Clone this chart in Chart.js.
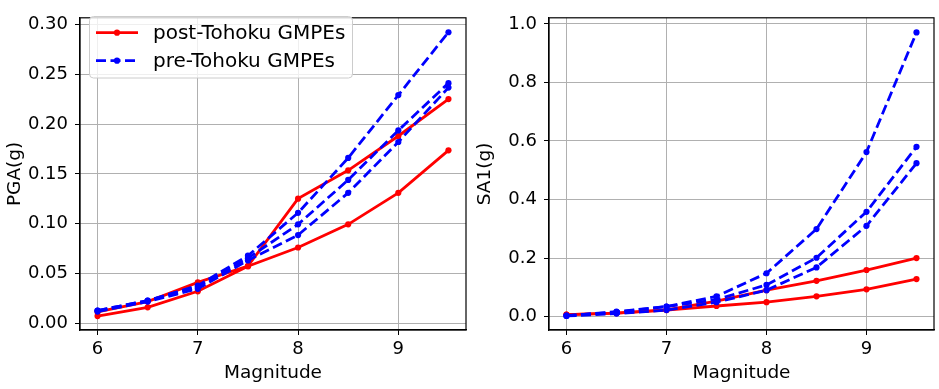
<!DOCTYPE html>
<html>
<head>
<meta charset="utf-8">
<script src="https://cdn.jsdelivr.net/npm/chart.js@4.4.0/dist/chart.umd.min.js"></script>
<style>
    html, body { margin: 0; padding: 0; background: #fff; }
    #wrap { position: relative; width: 939px; height: 389px; }
    .box { position: absolute; top: 0; height: 389px; }
</style>
</head>
<body>
<div id="wrap">
    <div class="box" style="left:0; width:470px;"><canvas id="chartPGA"></canvas></div>
    <div class="box" style="left:470px; width:469px;"><canvas id="chartSA1"></canvas></div>
</div>
<script>
// magnitudes on the x axis
const MAGNITUDES = [6, 6.5, 7, 7.5, 8, 8.5, 9, 9.5];
const X_TICKS = [6, 7, 8, 9];

// PGA (g) - left panel
const PGA_POST_1 = [0.0116, 0.022, 0.0413, 0.0575, 0.1252, 0.1536, 0.188, 0.225];
const PGA_POST_2 = [0.0075, 0.0162, 0.0323, 0.0575, 0.0762, 0.0994, 0.131, 0.1736];
const PGA_PRE_1 = [0.013, 0.023, 0.038, 0.068, 0.111, 0.166, 0.229, 0.292];
const PGA_PRE_2 = [0.013, 0.023, 0.0365, 0.0655, 0.0994, 0.144, 0.1936, 0.241];
const PGA_PRE_3 = [0.012, 0.022, 0.0348, 0.0633, 0.0887, 0.131, 0.182, 0.2365];
const PGA_TICKS = [0, 0.05, 0.10, 0.15, 0.20, 0.25, 0.30];

// SA1 (g) - right panel
const SA1_POST_1 = [0.0066, 0.012, 0.023, 0.053, 0.090, 0.122, 0.159, 0.1998];
const SA1_POST_2 = [0.0066, 0.012, 0.022, 0.036, 0.049, 0.069, 0.093, 0.128];
const SA1_PRE_1 = [0.003, 0.0165, 0.034, 0.069, 0.148, 0.299, 0.562, 0.971];
const SA1_PRE_2 = [0.003, 0.015, 0.034, 0.058, 0.108, 0.201, 0.358, 0.58];
const SA1_PRE_3 = [0.002, 0.01, 0.022, 0.049, 0.09, 0.168, 0.31, 0.524];
const SA1_TICKS = [0, 0.2, 0.4, 0.6, 0.8, 1.0];

const LEGEND_LABELS = ['post-Tohoku GMPEs', 'pre-Tohoku GMPEs'];

const RED = '#ff0000';
const BLUE = '#0000ff';
const DASH = [10, 4.5];
const FONT = { family: "'DejaVu Sans', sans-serif", size: 18.5 };
const TICK_FONT = { family: "'DejaVu Sans', sans-serif", size: 18 };
const LEGEND_FONT_SIZE = 20;

function toPoints(values) {
    return values.map((v, i) => ({ x: MAGNITUDES[i], y: v }));
}

function series(values, color, dashed) {
    return {
        data: toPoints(values),
        borderColor: color,
        backgroundColor: color,
        borderWidth: 2.8,
        borderDash: dashed ? DASH : [],
        pointRadius: 3.1,
        pointBorderWidth: 0,
        pointBackgroundColor: color,
        tension: 0,
        fill: false,
        order: dashed ? 0 : 1,
    };
}

// black frame on all four sides like matplotlib spines
const framePlugin = {
    id: 'frame',
    afterDraw(chart) {
        const { ctx, chartArea: a } = chart;
        ctx.save();
        ctx.strokeStyle = '#000';
        ctx.lineWidth = 1.2;
        ctx.strokeRect(a.left, a.top, a.right - a.left, a.bottom - a.top);
        ctx.restore();
    },
};

// legend box in the upper-left corner of the PGA panel
const legendPlugin = {
    id: 'boxLegend',
    afterDraw(chart, args, opts) {
        if (!opts.show) return;
        const { ctx } = chart;
        const x = 89.5, y = 16.5, w = 263, h = 61.5, r = 4;
        ctx.save();
        ctx.beginPath();
        ctx.roundRect(x, y, w, h, r);
        ctx.fillStyle = 'rgba(255,255,255,0.8)';
        ctx.fill();
        ctx.strokeStyle = '#cccccc';
        ctx.lineWidth = 1;
        ctx.stroke();

        const rows = [
            { label: LEGEND_LABELS[0], color: RED, dash: [], y: 32.7 },
            { label: LEGEND_LABELS[1], color: BLUE, dash: DASH, y: 60.7 },
        ];
        rows.forEach(row => {
            ctx.beginPath();
            ctx.setLineDash(row.dash);
            ctx.strokeStyle = row.color;
            ctx.lineWidth = 2.8;
            ctx.moveTo(96, row.y);
            ctx.lineTo(138, row.y);
            ctx.stroke();
            ctx.setLineDash([]);
            ctx.beginPath();
            ctx.arc(117, row.y, 3.1, 0, Math.PI * 2);
            ctx.fillStyle = row.color;
            ctx.fill();
            ctx.fillStyle = '#000';
            ctx.font = `${LEGEND_FONT_SIZE}px ${FONT.family}`;
            ctx.textBaseline = 'middle';
            ctx.textAlign = 'left';
            ctx.fillText(row.label, 153, row.y + 1);
        });
        ctx.restore();
    },
};

function makeChart(id, datasets, cfg) {
    const ctx = document.getElementById(id).getContext('2d');
    return new Chart(ctx, {
        type: 'line',
        data: { datasets },
        plugins: [framePlugin, legendPlugin],
        options: {
            responsive: true,
            maintainAspectRatio: false,
            animation: false,
            layout: { padding: { top: 6, right: cfg.padRight, left: 0, bottom: 0 } },
            plugins: {
                legend: { display: false },
                tooltip: { enabled: false },
                boxLegend: { show: cfg.legend },
            },
            scales: {
                x: {
                    type: 'linear',
                    min: 5.825,
                    max: 9.675,
                    afterBuildTicks: s => { s.ticks = X_TICKS.map(v => ({ value: v })); },
                    afterFit: s => { s.height = 59; },
                    ticks: { color: '#000', font: TICK_FONT, padding: 4, callback: v => String(v) },
                    grid: { color: '#b0b0b0', lineWidth: 1, tickColor: '#000', tickLength: 5 },
                    border: { color: '#000', width: 1.2 },
                    title: { display: true, text: 'Magnitude', color: '#000', font: FONT, padding: { top: 0, bottom: 4.5 } },
                },
                y: {
                    type: 'linear',
                    min: cfg.yMin,
                    max: cfg.yMax,
                    afterBuildTicks: s => { s.ticks = cfg.yTicks.map(v => ({ value: v })); },
                    afterFit: s => { s.width = cfg.yWidth; },
                    ticks: { color: '#000', font: TICK_FONT, padding: 7, callback: v => v.toFixed(cfg.decimals) },
                    grid: { color: '#b0b0b0', lineWidth: 1, tickColor: '#000', tickLength: 5 },
                    border: { color: '#000', width: 1.2 },
                    title: { display: true, text: cfg.yTitle, color: '#000', font: FONT, padding: { top: 4, bottom: 0 } },
                },
            },
        },
    });
}

makeChart('chartPGA', [
    series(PGA_POST_1, RED, false),
    series(PGA_POST_2, RED, false),
    series(PGA_PRE_1, BLUE, true),
    series(PGA_PRE_2, BLUE, true),
    series(PGA_PRE_3, BLUE, true),
], { yMin: -0.0065, yMax: 0.3065, yTicks: PGA_TICKS, decimals: 2, yTitle: 'PGA(g)', yWidth: 80, padRight: 4, legend: true });

makeChart('chartSA1', [
    series(SA1_POST_1, RED, false),
    series(SA1_POST_2, RED, false),
    series(SA1_PRE_1, BLUE, true),
    series(SA1_PRE_2, BLUE, true),
    series(SA1_PRE_3, BLUE, true),
], { yMin: -0.046, yMax: 1.021, yTicks: SA1_TICKS, decimals: 1, yTitle: 'SA1(g)', yWidth: 79, padRight: 5, legend: false });
</script>
</body>
</html>
